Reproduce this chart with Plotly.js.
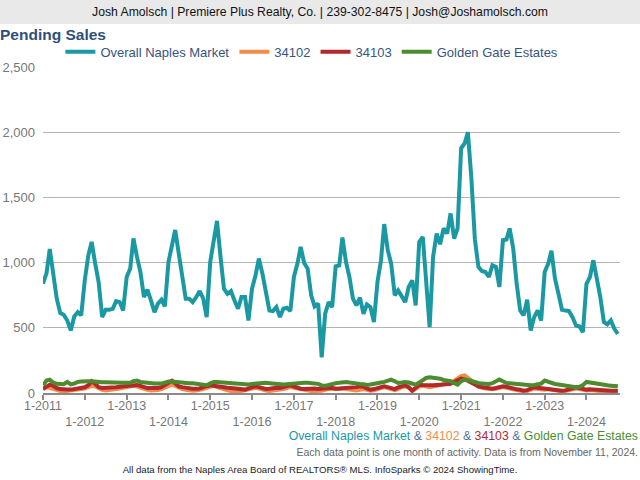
<!DOCTYPE html>
<html>
<head>
<meta charset="utf-8">
<script src="https://cdn.plot.ly/plotly-3.0.1.min.js"></script>
<style>
  body { margin: 0; background: #fff; }
  .txt { position: absolute; font-family: "Liberation Sans", Arial, sans-serif; white-space: nowrap; z-index: 2; }
  #banner {
    left: 0; top: 0; width: 640px; height: 24px;
    background: #e9e9e9; text-align: center; line-height: 24px;
    font-size: 12.2px; color: #111;
  }
  #foot1 { right: 2px; top: 428px; line-height: 16px; font-size: 12.3px; }
  #foot2 { right: 2px; top: 445px; line-height: 14px; font-size: 10.5px; color: #666; }
  #foot3 { left: 0; width: 640px; text-align: center; top: 463px; line-height: 14px; font-size: 9.6px; color: #222; }
  #graph { position: absolute; left: 0; top: 0; width: 640px; height: 480px; }
</style>
</head>
<body>
<div id="graph"></div>
<div id="banner" class="txt">Josh Amolsch | Premiere Plus Realty, Co. | 239-302-8475 | Josh@Joshamolsch.com</div>
<div id="foot1" class="txt"></div>
<div id="foot2" class="txt">Each data point is one month of activity. Data is from November 11, 2024.</div>
<div id="foot3" class="txt">All data from the Naples Area Board of REALTORS® MLS. InfoSparks © 2024 ShowingTime.</div>
<script>
// monthly pending sales, Jan 2011 - Oct 2024
var overallNaples = [
  838, 920, 1105, 900, 723, 613, 600, 556, 480, 587, 620, 595,
  864, 1056, 1159, 992, 851, 582, 638, 638, 646, 705, 697, 633,
  890, 954, 1185, 1044, 928, 736, 792, 710, 620, 685, 715, 665,
  1005, 1133, 1250, 1070, 903, 723, 723, 697, 736, 782, 723, 582,
  1005, 1172, 1320, 1044, 800, 761, 782, 710, 646, 736, 736, 556,
  800, 903, 1031, 915, 787, 633, 628, 659, 582, 646, 654, 628,
  890, 992, 1120, 997, 954, 749, 664, 685, 274, 608, 697, 659,
  972, 979, 1192, 1005, 890, 723, 672, 731, 608, 679, 659, 544,
  851, 1018, 1295, 1095, 992, 749, 787, 736, 697, 813, 864, 672,
  1159, 1197, 813, 505, 1044, 1223, 1141, 1262, 1223, 1377, 1185, 1262,
  1877, 1915, 2000, 1640, 1180, 967, 936, 928, 890, 980, 967, 813,
  1172, 1177, 1262, 1108, 839, 633, 595, 715, 480, 582, 633, 556,
  928, 992, 1090, 877, 762, 638, 633, 628, 582, 518, 510, 467,
  838, 890, 1018, 890, 736, 544, 526, 556, 492, 454
];
var zip34102 = [
  35, 45, 40, 30, 20, 15, 12, 15, 18, 22, 28, 30,
  35, 45, 55, 50, 35, 25, 20, 22, 25, 30, 35, 40,
  45, 50, 55, 50, 40, 30, 25, 20, 18, 22, 30, 40,
  55, 65, 55, 40, 30, 25, 20, 18, 20, 22, 30, 40,
  50, 55, 45, 35, 25, 20, 15, 12, 12, 15, 20, 28,
  35, 40, 35, 25, 18, 15, 18, 22, 25, 30, 38, 45,
  40, 35, 28, 22, 18, 15, 15, 15, 18, 25, 32, 30,
  28, 30, 35, 30, 25, 22, 20, 25, 30, 25, 18, 20,
  30, 40, 45, 38, 30, 22, 30, 45, 50, 40, 15, 30,
  50, 55, 50, 45, 50, 55, 60, 62, 65, 75, 95, 115,
  130, 135, 120, 95, 70, 50, 40, 35, 30, 28, 32, 40,
  45, 40, 35, 28, 22, 18, 12, 15, 22, 35, 30, 25,
  25, 30, 25, 20, 15, 12, 15, 20, 30, 35, 30, 22,
  20, 22, 18, 15, 14, 12, 12, 11, 10, 10
];
var zip34103 = [
  30, 50, 64, 55, 38, 30, 26, 26, 26, 30, 38, 44,
  44, 60, 90, 70, 44, 38, 38, 38, 40, 44, 48, 51,
  51, 55, 60, 62, 55, 44, 38, 38, 36, 38, 45, 60,
  80, 95, 75, 51, 45, 40, 35, 33, 33, 35, 45, 55,
  59, 55, 50, 44, 42, 40, 38, 35, 30, 28, 26, 35,
  45, 51, 45, 35, 31, 33, 38, 40, 38, 45, 55, 59,
  50, 40, 33, 30, 33, 38, 35, 31, 33, 38, 44, 40,
  33, 35, 38, 38, 36, 38, 45, 51, 48, 35, 26, 30,
  38, 44, 51, 45, 38, 30, 44, 55, 59, 45, 18, 40,
  64, 62, 59, 60, 60, 62, 64, 65, 64, 70, 85, 100,
  110, 105, 95, 80, 65, 50, 44, 40, 36, 33, 38, 45,
  51, 48, 40, 33, 28, 25, 18, 22, 30, 44, 40, 36,
  33, 35, 30, 25, 20, 18, 20, 28, 40, 44, 38, 30,
  26, 28, 25, 23, 22, 20, 20, 18, 18, 17
];
var goldenGate = [
  59, 95, 102, 80, 70, 66, 68, 85, 66, 72, 85, 88,
  92, 90, 90, 85, 82, 82, 82, 80, 80, 80, 80, 78,
  78, 78, 90, 95, 85, 80, 76, 72, 72, 72, 72, 80,
  88, 88, 85, 80, 80, 78, 75, 75, 72, 70, 65, 60,
  75, 85, 85, 82, 80, 78, 75, 72, 70, 68, 65, 65,
  70, 72, 78, 80, 78, 75, 72, 68, 62, 65, 68, 70,
  75, 80, 80, 78, 78, 75, 72, 70, 58, 55, 62, 72,
  75, 78, 82, 85, 80, 75, 70, 70, 68, 62, 65, 72,
  77, 80, 85, 95, 103, 90, 77, 80, 85, 80, 70, 64,
  80, 100, 115, 120, 118, 115, 110, 100, 95, 90, 75, 64,
  90, 103, 100, 90, 80, 77, 72, 70, 69, 75, 90, 103,
  90, 77, 75, 72, 70, 64, 62, 60, 59, 62, 65, 72,
  95, 85, 72, 69, 65, 60, 55, 50, 45, 44, 48, 60,
  85, 80, 72, 69, 65, 62, 59, 56, 55, 51
];

// x categories: first of each month
var months = [];
for (var i = 0; i < overallNaples.length; i++) {
  var yr = 2011 + Math.floor(i / 12);
  var mo = (i % 12) + 1;
  months.push(yr + "-" + (mo < 10 ? "0" + mo : mo) + "-01");
}

var tickYears = [2011, 2012, 2013, 2014, 2015, 2016, 2017, 2018, 2019, 2020, 2021, 2022, 2023, 2024];
var tickVals = [];
var tickText = [];
tickYears.forEach(function (y, idx) {
  tickVals.push(y + "-01-01");
  // even years sit on a second row
  tickText.push(idx % 2 === 0 ? "1-" + y : "<br>1-" + y);
});

var series = [
  {name: "Overall Naples Market", y: overallNaples, color: "#1b99a3"},
  {name: "34102", y: zip34102, color: "#f28c4a"},
  {name: "34103", y: zip34103, color: "#b3282b"},
  {name: "Golden Gate Estates", y: goldenGate, color: "#4c8c2f"}
];

var traces = series.map(function (s) {
  return {
    type: "scatter",
    mode: "lines",
    name: s.name,
    x: months,
    y: s.y,
    line: {color: s.color, width: 4},
    hoverinfo: "skip"
  };
});

// footer line with the series names in their colours
var amp = "<span style='color:#4a6fa5'> &amp; </span>";
document.getElementById("foot1").innerHTML = series.map(function (s) {
  return "<span style='color:" + s.color + "'>" + s.name + "</span>";
}).join(amp);

var layout = {
  width: 640,
  height: 480,
  margin: {l: 43, r: 20, t: 67, b: 87},
  paper_bgcolor: "#fff",
  plot_bgcolor: "#fff",
  font: {family: "Liberation Sans, Arial, sans-serif", color: "#777"},
  title: {
    text: "<b>Pending Sales</b>",
    x: 0, xref: "container", xanchor: "left",
    y: 0.927, yref: "container", yanchor: "middle",
    font: {size: 15.5, color: "#2f4f7a"}
  },
  showlegend: true,
  legend: {
    orientation: "h",
    x: 0.466, xanchor: "center",
    y: 1.047, yanchor: "middle",
    font: {size: 13, color: "#35557f"},
    itemwidth: 30,
    tracegroupgap: 0
  },
  xaxis: {
    type: "date",
    range: ["2011-01-01", "2024-10-20"],
    tickvals: tickVals,
    ticktext: tickText,
    tickfont: {size: 12.5, color: "#777"},
    ticklabelstandoff: -5,
    showgrid: false,
    showline: true,
    linecolor: "#8a8a8a",
    linewidth: 2,
    ticks: "outside",
    ticklen: 5,
    tickwidth: 2,
    tickcolor: "#8a8a8a",
    zeroline: false,
    fixedrange: true
  },
  yaxis: {
    range: [0, 2500],
    tickvals: [0, 500, 1000, 1500, 2000, 2500],
    tickformat: ",",
    tickfont: {size: 13, color: "#777"},
    showgrid: true,
    gridcolor: "#b5b5b5",
    gridwidth: 1,
    zeroline: false,
    showline: false,
    ticks: "",
    ticklabelstandoff: 7,
    fixedrange: true
  }
};

Plotly.newPlot("graph", traces, layout, {displayModeBar: false, staticPlot: true});
</script>
</body>
</html>
